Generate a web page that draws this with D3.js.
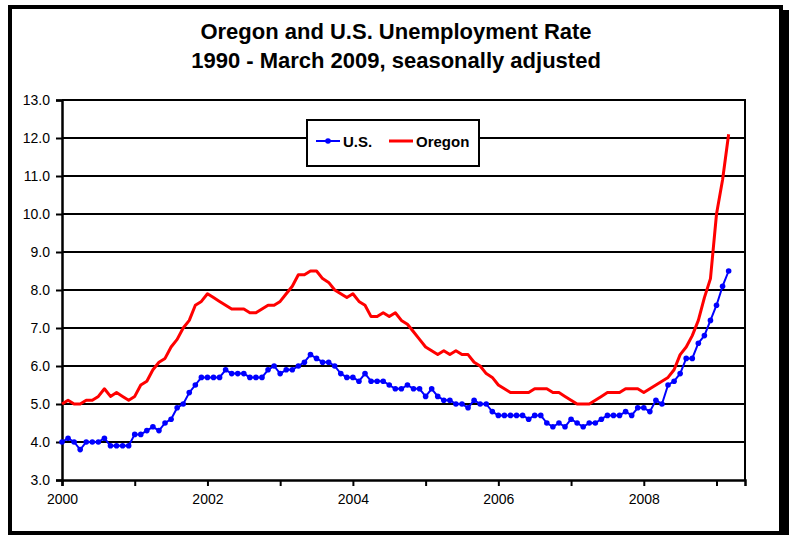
<!DOCTYPE html>
<html><head><meta charset="utf-8">
<script src="https://cdn.jsdelivr.net/npm/d3@7"></script>
<style>
html,body{margin:0;padding:0;background:#fff;}
svg{display:block;}
text{font-family:Arial,"Liberation Sans",sans-serif;}
.tick text{font-size:14px;fill:#000;}
</style></head>
<body>
<script>
// Monthly values, Jan 2000 - Mar 2009
const startYear = 2000;
const usValues = [
  4.0,4.1,4.0,3.8,4.0,4.0,4.0,4.1,3.9,3.9,3.9,3.9,
  4.2,4.2,4.3,4.4,4.3,4.5,4.6,4.9,5.0,5.3,5.5,5.7,
  5.7,5.7,5.7,5.9,5.8,5.8,5.8,5.7,5.7,5.7,5.9,6.0,
  5.8,5.9,5.9,6.0,6.1,6.3,6.2,6.1,6.1,6.0,5.8,5.7,
  5.7,5.6,5.8,5.6,5.6,5.6,5.5,5.4,5.4,5.5,5.4,5.4,
  5.2,5.4,5.2,5.1,5.1,5.0,5.0,4.9,5.1,5.0,5.0,4.8,
  4.7,4.7,4.7,4.7,4.7,4.6,4.7,4.7,4.5,4.4,4.5,4.4,
  4.6,4.5,4.4,4.5,4.5,4.6,4.7,4.7,4.7,4.8,4.7,4.9,
  4.9,4.8,5.1,5.0,5.5,5.6,5.8,6.2,6.2,6.6,6.8,7.2,
  7.6,8.1,8.5
];
const oregonValues = [
  5.0,5.1,5.0,5.0,5.1,5.1,5.2,5.4,5.2,5.3,5.2,5.1,
  5.2,5.5,5.6,5.9,6.1,6.2,6.5,6.7,7.0,7.2,7.6,7.7,
  7.9,7.8,7.7,7.6,7.5,7.5,7.5,7.4,7.4,7.5,7.6,7.6,
  7.7,7.9,8.1,8.4,8.4,8.5,8.5,8.3,8.2,8.0,7.9,7.8,
  7.9,7.7,7.6,7.3,7.3,7.4,7.3,7.4,7.2,7.1,6.9,6.7,
  6.5,6.4,6.3,6.4,6.3,6.4,6.3,6.3,6.1,6.0,5.8,5.7,
  5.5,5.4,5.3,5.3,5.3,5.3,5.4,5.4,5.4,5.3,5.3,5.2,
  5.1,5.0,5.0,5.0,5.1,5.2,5.3,5.3,5.3,5.4,5.4,5.4,
  5.3,5.4,5.5,5.6,5.7,5.9,6.3,6.5,6.8,7.2,7.8,8.3,
  10.0,10.9,12.1
];
const yTicks = [3,4,5,6,7,8,9,10,11,12,13];
const xTickYears = [2000,2001,2002,2003,2004,2005,2006,2007,2008,2009];
const xLabelYears = [2000,2002,2004,2006,2008];
const titleLines = ["Oregon and U.S. Unemployment Rate","1990 - March 2009, seasonally adjusted"];
const seriesNames = ["U.S.","Oregon"];

const W = 789, H = 535;
const svg = d3.select("body").append("svg").attr("width",W).attr("height",H);

// frame with shadow
svg.append("rect").attr("x",781).attr("y",10).attr("width",8).attr("height",525).attr("fill","#000");
svg.append("rect").attr("x",10).attr("y",7).attr("width",771).attr("height",526)
  .attr("fill","none").attr("stroke","#000").attr("stroke-width",4);

const L = 62, R = 745, T = 100, B = 480;
const x = d3.scaleLinear().domain([0,112.7]).range([L,R]);
const y = d3.scaleLinear().domain([3,13]).range([B,T]);

// title
svg.selectAll(".title").data(titleLines).enter().append("text")
  .attr("x",396).attr("y",(d,i)=>39+i*29)
  .attr("text-anchor","middle").attr("font-weight","bold").attr("font-size",22)
  .attr("fill","#000").text(d=>d);

// gridlines
svg.append("g").selectAll("line").data(yTicks.filter(v=>v>3)).enter().append("line")
  .attr("x1",L).attr("x2",R).attr("y1",d=>y(d)).attr("y2",d=>y(d))
  .attr("stroke","#000").attr("stroke-width",2);
// right border
svg.append("line").attr("x1",R).attr("x2",R).attr("y1",T-1).attr("y2",B)
  .attr("stroke","#000").attr("stroke-width",2);

// y axis
const yAxis = d3.axisLeft(y).tickValues(yTicks).tickFormat(d3.format(".1f")).tickSize(6).tickPadding(6);
const gy = svg.append("g").attr("transform",`translate(${L},0)`).call(yAxis);
gy.attr("font-size",null).attr("font-family",null);
gy.select(".domain").attr("stroke","#000").attr("stroke-width",2.5);
gy.selectAll(".tick line").attr("stroke","#000").attr("stroke-width",2);
gy.selectAll(".tick text").style("font-size","14px");

// x axis
const xTickVals = xTickYears.map(yr=>(yr-startYear)*12);
const xAxis = d3.axisBottom(x).tickValues(xTickVals).tickSize(6).tickPadding(8)
  .tickFormat(v=>{const yr=startYear+v/12; return xLabelYears.includes(yr)?String(yr):"";});
const gx = svg.append("g").attr("transform",`translate(0,${B})`).call(xAxis);
gx.attr("font-size",null).attr("font-family",null);
gx.select(".domain").attr("stroke","#000").attr("stroke-width",2.5);
gx.selectAll(".tick line").attr("stroke","#000").attr("stroke-width",2);
gx.selectAll(".tick text").style("font-size","14px");

// lines
const line = d3.line().x((d,i)=>x(i)).y(d=>y(d));
svg.append("path").datum(oregonValues).attr("d",line).attr("fill","none")
  .attr("stroke","#ff0000").attr("stroke-width",3).attr("stroke-linejoin","round");
svg.append("path").datum(usValues).attr("d",line).attr("fill","none")
  .attr("stroke","#0000ff").attr("stroke-width",2).attr("stroke-linejoin","round");
svg.append("g").selectAll("circle").data(usValues).enter().append("circle")
  .attr("cx",(d,i)=>x(i)).attr("cy",d=>y(d)).attr("r",2.8).attr("fill","#0000ff");

// legend
const lg = svg.append("g");
lg.append("rect").attr("x",307).attr("y",120).attr("width",172).attr("height",46)
  .attr("fill","#fff").attr("stroke","#000").attr("stroke-width",2);
lg.append("line").attr("x1",316).attr("x2",340).attr("y1",141).attr("y2",141).attr("stroke","#0000ff").attr("stroke-width",2);
lg.append("circle").attr("cx",328).attr("cy",141).attr("r",2.8).attr("fill","#0000ff");
lg.append("text").attr("x",343).attr("y",146.5).attr("font-size",15).attr("font-weight","bold").text(seriesNames[0]);
lg.append("line").attr("x1",389).attr("x2",413).attr("y1",141).attr("y2",141).attr("stroke","#ff0000").attr("stroke-width",3);
lg.append("text").attr("x",416).attr("y",146.5).attr("font-size",15).attr("font-weight","bold").text(seriesNames[1]);
</script>
</body></html>
